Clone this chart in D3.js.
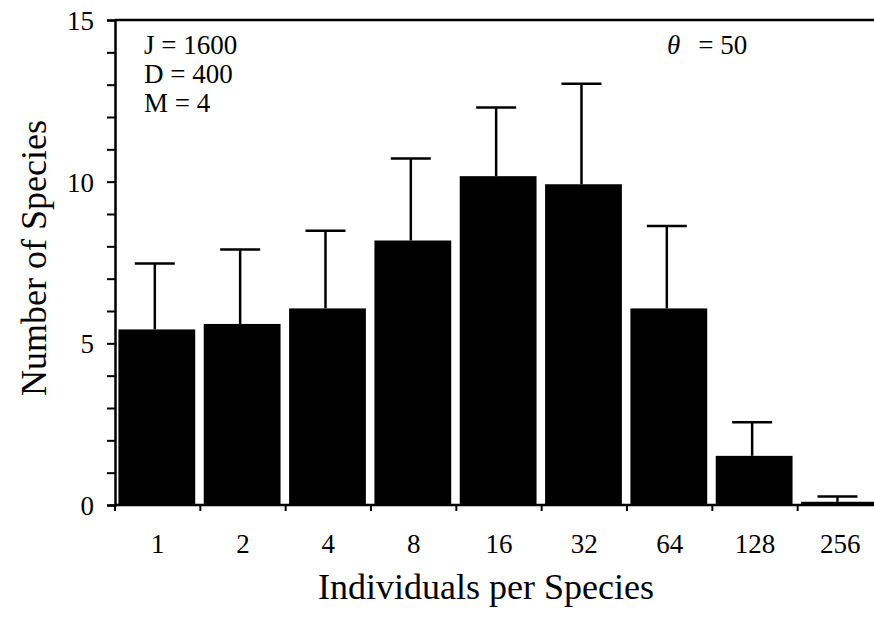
<!DOCTYPE html>
<html><head><meta charset="utf-8">
<script src="https://cdn.jsdelivr.net/npm/d3@7"></script>
<style>body{margin:0;background:#fff}svg{display:block}text{font-family:"Liberation Serif","DejaVu Serif",serif;fill:#000}</style>
</head><body>
<script>
const categories = ["1","2","4","8","16","32","64","128","256"];
const means = [5.43, 5.6, 6.08, 8.18, 10.17, 9.92, 6.08, 1.52, 0.1];
const upper = [7.47, 7.9, 8.48, 10.72, 12.29, 13.03, 8.63, 2.56, 0.26];
const yTicks = [0, 5, 10, 15];
const paramLines = ["J = 1600", "D = 400", "M = 4"];

const W = 874, H = 617;
const svg = d3.select("body").append("svg").attr("width", W).attr("height", H);
const mLeft = 115, mTop = 20, mBottom = 505, mRight = 883;
const FONT = '"Liberation Serif", serif';

const x = d3.scaleBand().domain(categories).range([mLeft, mRight]);
const y = d3.scaleLinear().domain([0, 15]).range([mBottom, mTop]);
const bw = x.bandwidth();

// bars
svg.selectAll("rect.bar").data(categories).enter().append("rect")
  .attr("x", (d) => x(d) + bw * 0.04)
  .attr("width", bw * 0.9)
  .attr("y", (d, i) => y(means[i]))
  .attr("height", (d, i) => y(0) - y(means[i]))
  .attr("fill", "#000");

// error bars
const eb = svg.append("g").attr("stroke", "#000").attr("stroke-width", 2.5);
categories.forEach((c, i) => {
  const cx = x(c) + bw * 0.04 + bw * 0.45 - 2;
  eb.append("line").attr("x1", cx).attr("x2", cx).attr("y1", y(means[i])).attr("y2", y(upper[i]));
  eb.append("line").attr("x1", cx - 20).attr("x2", cx + 20).attr("y1", y(upper[i])).attr("y2", y(upper[i]));
});

// y axis
const yAxis = d3.axisLeft(y).tickValues(d3.range(0, 16)).tickSize(8).tickPadding(13)
  .tickFormat(d => yTicks.includes(d) ? d : "");
const gy = svg.append("g").attr("transform", `translate(${mLeft},0)`).call(yAxis);
gy.attr("font-family", FONT);
gy.select(".domain").attr("stroke-width", 2.5);
gy.selectAll(".tick line").attr("stroke-width", 2);
gy.selectAll(".tick text").style("font-size", "27px").style("font-family", FONT).attr("dy", "0.35em");

// x axis
const xAxis = d3.axisBottom(x).tickSize(0).tickPadding(29);
const gx = svg.append("g").attr("transform", `translate(0,${mBottom})`).call(xAxis);
gx.attr("font-family", FONT);
gx.select(".domain").attr("stroke-width", 2.5).attr("d", `M${mLeft},0H${mRight}`);
gx.selectAll(".tick text").style("font-size", "27px").style("font-family", FONT);
// boundary ticks
svg.append("g").selectAll("line").data(categories).enter().append("line")
  .attr("x1", d => x(d)).attr("x2", d => x(d)).attr("y1", mBottom).attr("y2", mBottom + 6)
  .attr("stroke", "#000").attr("stroke-width", 2);

// top frame line
svg.append("line").attr("x1", mLeft).attr("x2", W).attr("y1", mTop).attr("y2", mTop)
  .attr("stroke", "#000").attr("stroke-width", 2.5);

// parameter text
svg.append("g").selectAll("text").data(paramLines).enter().append("text")
  .attr("x", 144).attr("y", (d, i) => 54 + i * 29).style("font-size", "27px")
  .style("font-family", FONT).text(d => d);
const th = svg.append("text").attr("x", 667).attr("y", 54).style("font-size", "27px").style("font-family", FONT);
th.append("tspan").attr("font-style", "italic").text("θ");
th.append("tspan").attr("dx", 18).text("= 50");

// axis titles
svg.append("text").attr("transform", "translate(46,258) rotate(-90)").attr("text-anchor", "middle")
  .style("font-size", "36px").style("font-family", FONT).text("Number of Species");
svg.append("text").attr("x", 486).attr("y", 599).attr("text-anchor", "middle")
  .style("font-size", "36px").style("font-family", FONT).text("Individuals per Species");
</script>
</body></html>
